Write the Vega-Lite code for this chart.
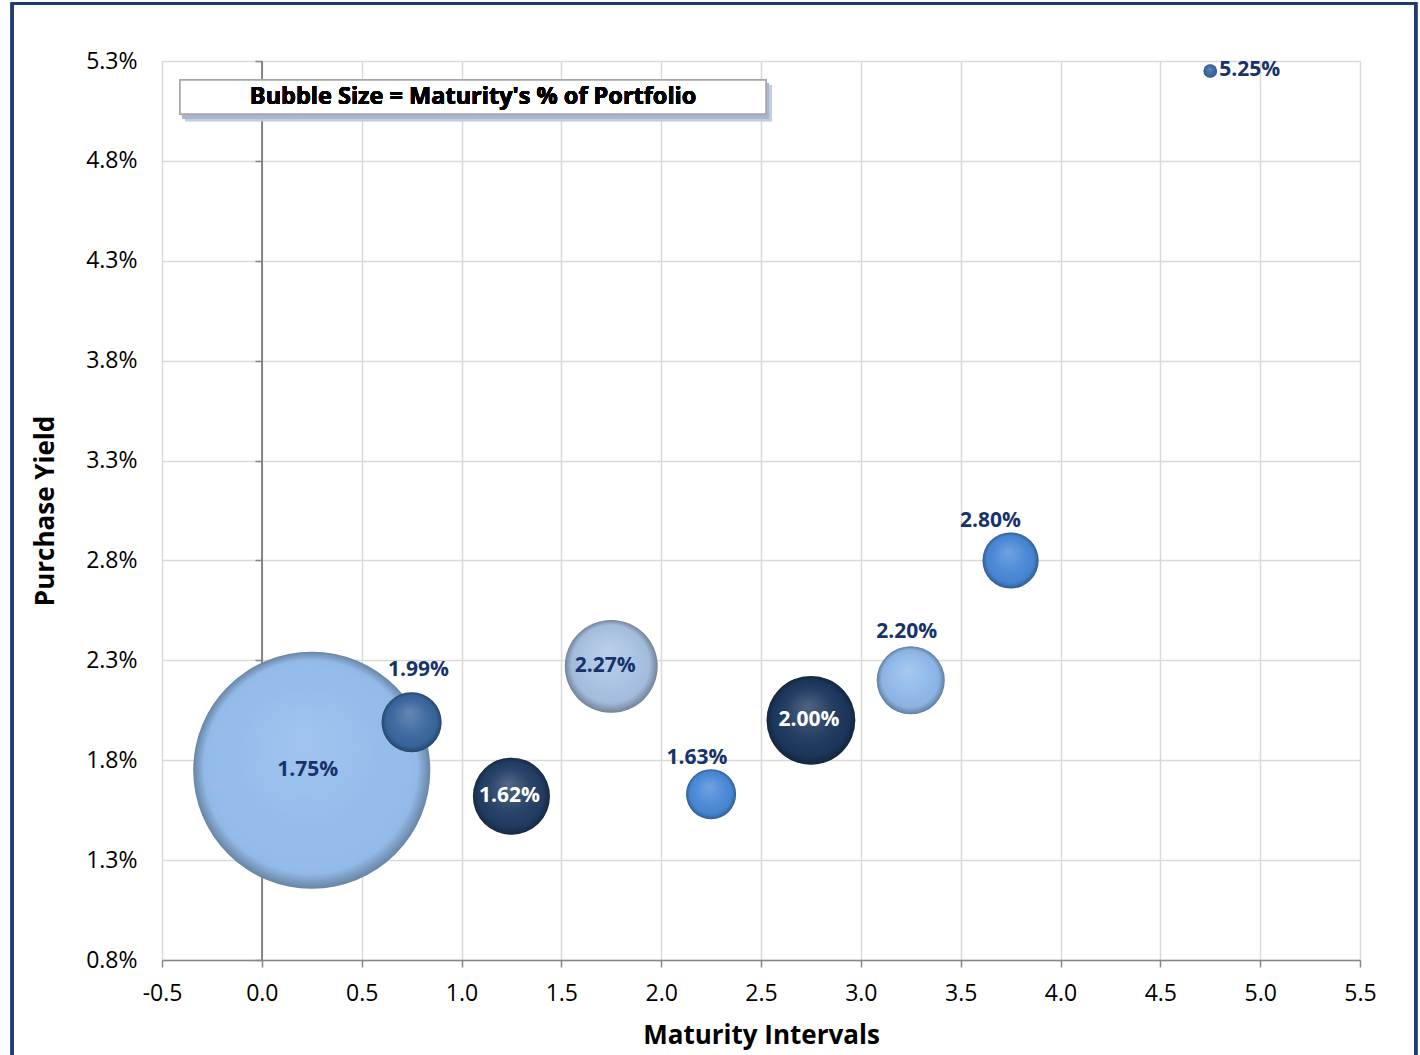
{
  "$schema": "https://vega.github.io/schema/vega-lite/v6.json",
  "width": 1198,
  "height": 899,
  "autosize": {"type": "none"},
  "padding": {"left": 162, "top": 61, "right": 60, "bottom": 95},
  "background": "#ffffff",
  "datasets": {
    "bubbles": [
      {"maturity": 0.25, "yield": 0.0175, "share": 60.6},
      {"maturity": 0.75, "yield": 0.0199, "share": 3.9},
      {"maturity": 1.25, "yield": 0.0162, "share": 6.4},
      {"maturity": 1.75, "yield": 0.0227, "share": 9.3},
      {"maturity": 2.25, "yield": 0.0163, "share": 2.7},
      {"maturity": 2.75, "yield": 0.0200, "share": 8.5},
      {"maturity": 3.25, "yield": 0.0220, "share": 5.0},
      {"maturity": 3.75, "yield": 0.0280, "share": 3.4},
      {"maturity": 4.75, "yield": 0.0525, "share": 0.2}
    ]
  },
  "data": {"name": "bubbles"},
  "resolve": {"axis": {"y": "independent"}},
  "layer": [
    {
      "mark": {"type": "rect", "fill": null, "stroke": "#1f3b74", "strokeWidth": 2.5},
      "encoding": {
        "x": {
          "datum": -1.251, "type": "quantitative",
          "scale": {"domain": [-0.5, 5.5], "nice": false, "zero": false},
          "axis": {
            "values": [-0.5, 0, 0.5, 1, 1.5, 2, 2.5, 3, 3.5, 4, 4.5, 5, 5.5],
            "labelExpr": "replace(format(datum.value, '.1f'), '\u2212', '-')",
            "title": "Maturity Intervals", "grid": true,
            "domainWidth": 1.5, "tickSize": 7, "tickWidth": 1.5,
            "labelPadding": 15, "labelFlush": false, "labelOverlap": false,
            "titleX": 599, "titleY": 75, "titleAlign": "center", "titleBaseline": "middle"
          }
        },
        "x2": {"datum": 5.78},
        "y": {
          "datum": 0.05588, "type": "quantitative",
          "scale": {"domain": [0.008, 0.053], "nice": false, "zero": false},
          "axis": {
            "orient": "left",
            "values": [0.008, 0.013, 0.018, 0.023, 0.028, 0.033, 0.038, 0.043, 0.048, 0.053],
            "format": ".1%", "title": "Purchase Yield", "grid": true,
            "domain": false, "ticks": false, "tickSize": 0,
            "labelPadding": 25, "labelFlush": false, "labelOverlap": false,
            "titleAngle": -90, "titleX": -117, "titleY": 449.5, "titleAlign": "center", "titleBaseline": "middle"
          }
        },
        "y2": {"datum": 0.0031}
      }
    },
    {
      "mark": {"type": "rule", "color": "#878787", "strokeWidth": 1.5},
      "encoding": {
        "x": {"datum": 0, "type": "quantitative"},
        "y": {"datum": 0.008, "type": "quantitative", "axis": null},
        "y2": {"datum": 0.053}
      }
    },
    {
      "mark": {"type": "rect", "fill": "#c3cbe0", "opacity": 0.35},
      "encoding": {
        "x": {"datum": -0.385, "type": "quantitative"},
        "x2": {"datum": 2.555},
        "y": {"datum": 0.0518, "type": "quantitative", "axis": null},
        "y2": {"datum": 0.04998}
      }
    },
    {
      "mark": {"type": "rect", "fill": "#a9b5d2", "opacity": 0.45},
      "encoding": {
        "x": {"datum": -0.4, "type": "quantitative"},
        "x2": {"datum": 2.54},
        "y": {"datum": 0.0519, "type": "quantitative", "axis": null},
        "y2": {"datum": 0.05012}
      }
    },
    {
      "mark": {"type": "rect", "fill": "#ffffff", "stroke": "#a6a6a6", "strokeWidth": 1.5},
      "encoding": {
        "x": {"datum": -0.41, "type": "quantitative"},
        "x2": {"datum": 2.525},
        "y": {"datum": 0.05205, "type": "quantitative", "axis": null},
        "y2": {"datum": 0.05035}
      }
    },
    {
      "mark": {"type": "text", "text": "Bubble Size = Maturity's % of Portfolio", "font": "Open Sans", "fontSize": 23.5, "fontWeight": "bold", "color": "#000000", "align": "center", "baseline": "middle"},
      "encoding": {
        "x": {"datum": 1.058, "type": "quantitative"},
        "y": {"datum": 0.0512, "type": "quantitative", "axis": null}
      }
    },
    {
      "transform": [{"filter": {"field": "maturity", "equal": 0.25}}],
      "mark": {"type": "circle", "opacity": 1},
      "encoding": {
        "x": {"field": "maturity", "type": "quantitative"},
        "y": {"field": "yield", "type": "quantitative", "axis": null},
        "size": {"field": "share", "type": "quantitative", "legend": null, "scale": {"type": "linear", "domain": [0, 60.6], "range": [0, 56169], "zero": true}},
        "color": {
          "field": "maturity", "type": "nominal", "legend": null,
          "scale": {
            "domain": [0.25, 0.75, 1.25, 1.75, 2.25, 2.75, 3.25, 3.75, 4.75],
            "range": ["#95bdec", "#3a679f", "#223e64", "#a8c2e3", "#4a89d8", "#1d385e", "#8fb9ea", "#4888d6", "#3a68a0"]
          }
        }
      }
    },
    {
      "transform": [{"filter": {"field": "maturity", "equal": 0.25}}],
      "mark": {
        "type": "circle", "opacity": 1,
        "fill": {
          "gradient": "radial", "x1": 0.46, "y1": 0.36, "r1": 0, "x2": 0.5, "y2": 0.5, "r2": 0.5,
          "stops": [
            {"offset": 0, "color": "rgba(255,255,255,0.12)"},
            {"offset": 0.6, "color": "rgba(255,255,255,0.0)"},
            {"offset": 0.9, "color": "rgba(0,0,0,0.02)"},
            {"offset": 1, "color": "rgba(0,0,0,0.3)"}
          ]
        }
      },
      "encoding": {
        "x": {"field": "maturity", "type": "quantitative"},
        "y": {"field": "yield", "type": "quantitative", "axis": null},
        "size": {"field": "share", "type": "quantitative", "legend": null}
      }
    },
    {
      "transform": [{"filter": {"field": "maturity", "equal": 0.25}}],
      "mark": {"type": "text", "font": "Open Sans", "fontSize": 21, "fontWeight": "bold", "color": "#17336b", "align": "center", "baseline": "middle", "dx": -4},
      "encoding": {
        "x": {"field": "maturity", "type": "quantitative"},
        "y": {"field": "yield", "type": "quantitative", "axis": null},
        "text": {"field": "yield", "type": "quantitative", "format": ".2%"}
      }
    },
    {
      "transform": [{"filter": {"field": "maturity", "gt": 0.25}}],
      "mark": {"type": "circle", "opacity": 1},
      "encoding": {
        "x": {"field": "maturity", "type": "quantitative"},
        "y": {"field": "yield", "type": "quantitative", "axis": null},
        "size": {"field": "share", "type": "quantitative", "legend": null},
        "color": {"field": "maturity", "type": "nominal", "legend": null}
      }
    },
    {
      "transform": [{"filter": {"field": "maturity", "gt": 0.25}}],
      "mark": {
        "type": "circle", "opacity": 1,
        "fill": {
          "gradient": "radial", "x1": 0.46, "y1": 0.34, "r1": 0, "x2": 0.5, "y2": 0.5, "r2": 0.5,
          "stops": [
            {"offset": 0, "color": "rgba(255,255,255,0.22)"},
            {"offset": 0.55, "color": "rgba(255,255,255,0.04)"},
            {"offset": 0.84, "color": "rgba(0,0,0,0.03)"},
            {"offset": 1, "color": "rgba(0,0,0,0.32)"}
          ]
        }
      },
      "encoding": {
        "x": {"field": "maturity", "type": "quantitative"},
        "y": {
          "field": "yield", "type": "quantitative",
          "axis": {
            "orient": "left", "offset": -100,
            "values": [0.008, 0.013, 0.018, 0.023, 0.028, 0.033, 0.038, 0.043, 0.048, 0.053],
            "labels": false, "grid": false, "domain": false, "title": null,
            "ticks": true, "tickSize": 7, "tickWidth": 1.5, "tickColor": "#878787"
          }
        },
        "size": {"field": "share", "type": "quantitative", "legend": null}
      }
    },
    {
      "transform": [{"filter": {"field": "maturity", "equal": 1.75}}],
      "mark": {"type": "text", "font": "Open Sans", "fontSize": 21, "fontWeight": "bold", "color": "#17336b", "align": "center", "baseline": "middle", "dx": -6},
      "encoding": {
        "x": {"field": "maturity", "type": "quantitative"},
        "y": {"field": "yield", "type": "quantitative", "axis": null},
        "text": {"field": "yield", "type": "quantitative", "format": ".2%"}
      }
    },
    {
      "transform": [{"filter": {"field": "maturity", "oneOf": [1.25, 2.75]}}],
      "mark": {"type": "text", "font": "Open Sans", "fontSize": 21, "fontWeight": "bold", "color": "#ffffff", "align": "center", "baseline": "middle", "dx": -2},
      "encoding": {
        "x": {"field": "maturity", "type": "quantitative"},
        "y": {"field": "yield", "type": "quantitative", "axis": null},
        "text": {"field": "yield", "type": "quantitative", "format": ".2%"}
      }
    },
    {
      "transform": [{"filter": {"field": "maturity", "equal": 0.75}}],
      "mark": {"type": "text", "font": "Open Sans", "fontSize": 21, "fontWeight": "bold", "color": "#17336b", "align": "center", "baseline": "middle", "dx": 7, "dy": -52},
      "encoding": {
        "x": {"field": "maturity", "type": "quantitative"},
        "y": {"field": "yield", "type": "quantitative", "axis": null},
        "text": {"field": "yield", "type": "quantitative", "format": ".2%"}
      }
    },
    {
      "transform": [{"filter": {"field": "maturity", "equal": 2.25}}],
      "mark": {"type": "text", "font": "Open Sans", "fontSize": 21, "fontWeight": "bold", "color": "#17336b", "align": "center", "baseline": "middle", "dx": -14, "dy": -36},
      "encoding": {
        "x": {"field": "maturity", "type": "quantitative"},
        "y": {"field": "yield", "type": "quantitative", "axis": null},
        "text": {"field": "yield", "type": "quantitative", "format": ".2%"}
      }
    },
    {
      "transform": [{"filter": {"field": "maturity", "equal": 3.25}}],
      "mark": {"type": "text", "font": "Open Sans", "fontSize": 21, "fontWeight": "bold", "color": "#17336b", "align": "center", "baseline": "middle", "dx": -4, "dy": -48},
      "encoding": {
        "x": {"field": "maturity", "type": "quantitative"},
        "y": {"field": "yield", "type": "quantitative", "axis": null},
        "text": {"field": "yield", "type": "quantitative", "format": ".2%"}
      }
    },
    {
      "transform": [{"filter": {"field": "maturity", "equal": 3.75}}],
      "mark": {"type": "text", "font": "Open Sans", "fontSize": 21, "fontWeight": "bold", "color": "#17336b", "align": "center", "baseline": "middle", "dx": -20, "dy": -39},
      "encoding": {
        "x": {"field": "maturity", "type": "quantitative"},
        "y": {"field": "yield", "type": "quantitative", "axis": null},
        "text": {"field": "yield", "type": "quantitative", "format": ".2%"}
      }
    },
    {
      "transform": [{"filter": {"field": "maturity", "equal": 4.75}}],
      "mark": {"type": "text", "font": "Open Sans", "fontSize": 21, "fontWeight": "bold", "color": "#17336b", "align": "left", "baseline": "middle", "dx": 9, "dy": -1},
      "encoding": {
        "x": {"field": "maturity", "type": "quantitative"},
        "y": {"field": "yield", "type": "quantitative", "axis": null},
        "text": {"field": "yield", "type": "quantitative", "format": ".2%"}
      }
    }
  ],
  "config": {
    "view": {"stroke": null},
    "font": "Open Sans",
    "axis": {
      "gridColor": "#d9d9d9", "gridWidth": 1.5,
      "domainColor": "#878787", "tickColor": "#878787",
      "labelFont": "Open Sans", "labelFontSize": 23, "labelColor": "#000000",
      "titleFont": "Open Sans", "titleFontSize": 26, "titleFontWeight": "bold", "titleColor": "#000000"
    }
  }
}
